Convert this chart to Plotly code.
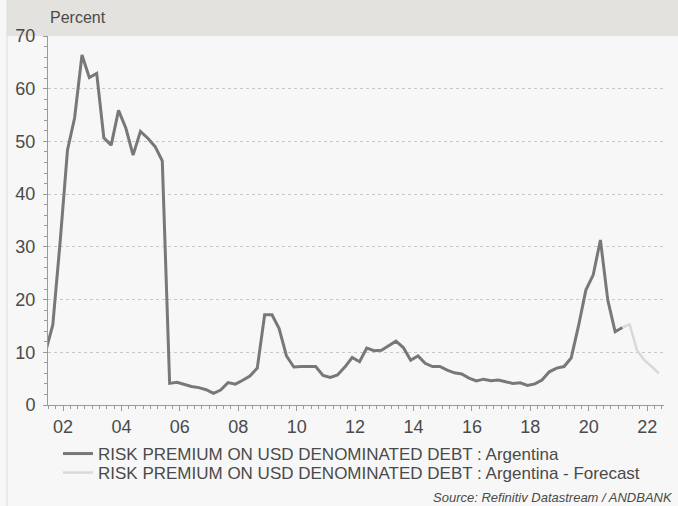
import pandas as pd
import plotly.graph_objects as go

# Quarterly observations (Feb / May / Aug / Nov), percent
risk_premium = [
    10.0, 15.2, 31.0,                 # 2001
    48.4, 54.5, 66.4, 62.1,           # 2002
    62.9, 50.7, 49.3, 55.9,           # 2003
    52.5, 47.4, 51.9, 50.6,           # 2004
    49.0, 46.3, 4.1, 4.3,             # 2005
    3.9, 3.5, 3.3, 2.9,               # 2006
    2.2, 2.85, 4.25, 3.95,            # 2007
    4.7, 5.5, 7.0, 17.1,              # 2008
    17.1, 14.5, 9.3, 7.2,             # 2009
    7.3, 7.3, 7.3, 5.6,               # 2010
    5.25, 5.7, 7.2, 9.0,              # 2011
    8.2, 10.8, 10.3, 10.4,            # 2012
    11.3, 12.1, 10.9, 8.5,            # 2013
    9.3, 7.9, 7.3, 7.3,               # 2014
    6.6, 6.1, 5.9, 5.1,               # 2015
    4.55, 4.9, 4.6, 4.75,             # 2016
    4.4, 4.1, 4.2, 3.7,               # 2017
    4.0, 4.75, 6.3, 7.0,              # 2018
    7.3, 8.9, 15.0, 21.8,             # 2019
    24.7, 31.3, 19.9, 13.9,           # 2020
    14.7,                             # 2021
]
forecast = [14.7, 15.3, 10.4, 8.5, 7.3, 6.0]

hist_dates = pd.date_range("2001-05-01", periods=len(risk_premium), freq="3MS") + pd.Timedelta(days=25)
fc_dates = pd.date_range("2021-02-01", periods=len(forecast), freq="3MS") + pd.Timedelta(days=25)

TEXT = "#4a4a4a"
FONT = "Liberation Sans, Arial, sans-serif"
PLOT_W, PLOT_H = 616, 369  # plot area in pixels

fig = go.Figure()
fig.add_trace(go.Scatter(
    x=hist_dates, y=risk_premium, mode="lines",
    name="RISK PREMIUM ON USD DENOMINATED DEBT : Argentina",
    line=dict(color="#787878", width=3),
    legend="legend",
))
fig.add_trace(go.Scatter(
    x=fc_dates, y=forecast, mode="lines",
    name="RISK PREMIUM ON USD DENOMINATED DEBT : Argentina - Forecast",
    line=dict(color="#d9d9d9", width=2.5),
    legend="legend2",
))

legend_style = dict(
    xanchor="left", yanchor="top",
    bgcolor="rgba(0,0,0,0)", font=dict(size=17, color=TEXT),
    itemwidth=30,
)

fig.update_layout(
    width=678, height=506,
    margin=dict(l=48, r=14, t=36, b=101, autoexpand=False),
    paper_bgcolor="#f7f7f7",
    plot_bgcolor="#f7f7f7",
    font=dict(family=FONT, color=TEXT, size=17),
    showlegend=True,
    legend=dict(x=10 / PLOT_W, y=-31 / PLOT_H, **legend_style),
    legend2=dict(x=10 / PLOT_W, y=-50 / PLOT_H, **legend_style),
    shapes=[
        dict(type="rect", xref="paper", yref="paper",
             x0=-41 / PLOT_W, x1=1 + 14 / PLOT_W, y0=1, y1=1 + 36 / PLOT_H,
             fillcolor="#e3e2de", line=dict(width=0), layer="below"),
        dict(type="line", xref="paper", yref="paper",
             x0=-41 / PLOT_W, x1=-41 / PLOT_W, y0=1 + 36 / PLOT_H, y1=-101 / PLOT_H,
             line=dict(color="#dcdcdc", width=1)),
    ],
    annotations=[
        dict(text="Percent", xref="paper", yref="paper", x=0, y=1 + 19 / PLOT_H,
             xanchor="left", yanchor="middle", showarrow=False,
             font=dict(size=16, color=TEXT)),
        dict(text="<i>Source: Refinitiv Datastream / ANDBANK</i>", xref="paper", yref="paper",
             x=1 + 11 / PLOT_W, y=-92 / PLOT_H, xanchor="right", yanchor="middle",
             showarrow=False, font=dict(size=13, color=TEXT)),
    ],
)

fig.update_xaxes(
    type="date",
    range=["2001-06-27", "2022-07-30"],
    tick0="2002-01-01", dtick="M24", tickformat="%y",
    ticks="outside", ticklen=5, tickcolor="#9a9a9a",
    showline=True, linecolor="#9a9a9a", linewidth=1,
    showgrid=False, zeroline=False,
    tickfont=dict(size=18, color=TEXT),
    minor=dict(dtick="M3", tick0="2001-01-01", ticks="outside", ticklen=3, tickcolor="#9a9a9a"),
)
fig.update_yaxes(
    range=[0, 70], dtick=10,
    ticks="outside", ticklen=4, tickcolor="#9a9a9a",
    showline=True, linecolor="#9a9a9a", linewidth=1,
    showgrid=True, gridcolor="#c8c8c8", griddash="dot", gridwidth=1,
    zeroline=False,
    tickfont=dict(size=18, color=TEXT),
    ticklabelstandoff=4,
    minor=dict(dtick=2, ticks="outside", ticklen=3, tickcolor="#9a9a9a", showgrid=False),
)

fig.write_html("out.html")
